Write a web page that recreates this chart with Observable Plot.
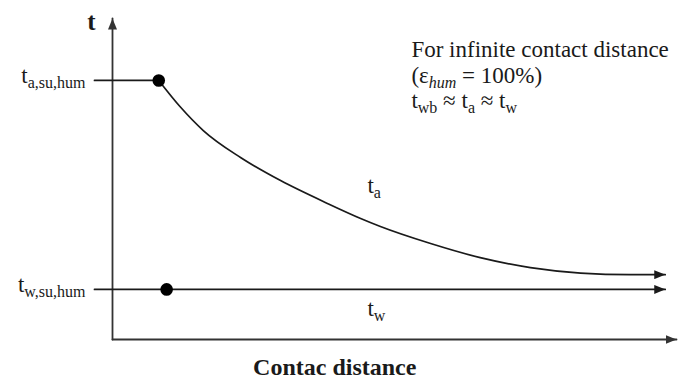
<!DOCTYPE html>
<html>
<head>
<meta charset="utf-8">
<script src="https://cdn.jsdelivr.net/npm/d3@7"></script>
<script src="https://cdn.jsdelivr.net/npm/@observablehq/plot@0.6"></script>
<style>
  html, body { margin: 0; padding: 0; background: #fff; }
</style>
</head>
<body>
<div id="chart"></div>
<script>
// ---- data (abstract units: contact distance 0..100, temperature 0..100) ----
const airDistance = [8.2, 12.0, 16.1, 22.7, 29.8, 38.1, 44.0, 47.5, 56.4, 65.2, 74.1, 83.0, 91.8, 98.0];
const airTemp     = [80.7, 72.5, 65.1, 56.7, 49.5, 42.4, 37.7, 35.2, 29.9, 25.5, 22.4, 20.7, 20.2, 20.2];
const tAirSuHum = 80.7;          // t_a,su,hum level
const tWaterSuHum = 15.6;        // t_w,su,hum level
const waterStart = 9.6;          // start point of t_w
const waterEnd = 98.0;
const levelStart = -3.2;         // level lines begin left of the axis
const levelLabels = ["t_{a,su,hum}", "t_{w,su,hum}"];
const levelValues = [tAirSuHum, tWaterSuHum];
const curveLabels = ["t_{a}", "t_{w}"];
const noteLines = ["For infinite contact distance", "(ε_[hum] = 100%)", "t_{wb} ≈ t_{a} ≈ t_{w}"];
const xTitle = "Contac distance";
const yTitle = "t";

const airSeries = airDistance.map((d, i) => ({x: d, y: airTemp[i]}));
const airLevel = [{x: levelStart, y: tAirSuHum}, {x: airDistance[0], y: tAirSuHum}];
const waterSeries = [{x: levelStart, y: tWaterSuHum}, {x: waterEnd, y: tWaterSuHum}];
const startDots = [{x: airDistance[0], y: airTemp[0]}, {x: waterStart, y: tWaterSuHum}];

const ink = "#1a1a1a";
const serif = "'Liberation Serif', 'Times New Roman', Times, serif";

function filledArrow(color) {
  const m = d3.create("svg:marker")
    .attr("viewBox", "-11 -4.5 11 9")
    .attr("markerWidth", 11).attr("markerHeight", 9)
    .attr("markerUnits", "userSpaceOnUse")
    .attr("orient", "auto")
    .attr("refX", 0).attr("refY", 0)
    .attr("fill", color).attr("stroke", "none");
  m.append("path").attr("d", "M-11,-4.5L0,0L-11,4.5Z");
  return m.node();
}

const chart = Plot.plot({
  width: 679,
  height: 381,
  marginLeft: 112,
  marginRight: 3,
  marginTop: 18,
  marginBottom: 42,
  x: {domain: [0, 100], axis: null},
  y: {domain: [0, 100], axis: null},
  style: {fontFamily: serif, color: ink, background: "#fff", overflow: "visible"},
  marks: [
    // axes with arrow heads
    Plot.line([{x: 0, y: 0}, {x: 100, y: 0}], {x: "x", y: "y", stroke: "#333", strokeWidth: 1.8, markerEnd: filledArrow}),
    Plot.line([{x: 0, y: 0}, {x: 0, y: 100}], {x: "x", y: "y", stroke: "#333", strokeWidth: 1.8, markerEnd: filledArrow}),
    // t_a level + curve
    Plot.line(airLevel, {x: "x", y: "y", stroke: ink, strokeWidth: 1.7}),
    Plot.line(airSeries, {x: "x", y: "y", stroke: ink, strokeWidth: 1.7, curve: "monotone-x", markerEnd: filledArrow}),
    // t_w line
    Plot.line(waterSeries, {x: "x", y: "y", stroke: ink, strokeWidth: 1.7, markerEnd: filledArrow}),
    // start dots
    Plot.dot(startDots, {x: "x", y: "y", r: 6.3, fill: "#000", stroke: "none"}),
    // level labels on the y axis
    Plot.text(levelLabels, {x: () => 0, y: (d, i) => levelValues[i], text: d => d, dx: -27, dy: 3, textAnchor: "end", lineAnchor: "bottom", fontSize: 23, fontFamily: serif, fill: ink}),
    // y title
    Plot.text([yTitle], {x: () => 0, y: () => 100, text: d => d, dx: -21, dy: 11, textAnchor: "middle", lineAnchor: "bottom", fontSize: 25, fontWeight: "bold", fontFamily: serif, fill: ink}),
    // curve labels
    Plot.text(curveLabels, {x: () => 45.2, y: (d, i) => [45.5, 7.2][i], text: d => d, textAnchor: "start", lineAnchor: "bottom", fontSize: 23, fontFamily: serif, fill: ink}),
    // note
    Plot.text(noteLines, {x: () => 53.0, y: (d, i) => 88 - i * 8, text: d => d, textAnchor: "start", lineAnchor: "bottom", fontSize: 23, fontFamily: serif, fill: ink}),
    // x title
    Plot.text([xTitle], {x: () => 39.4, y: () => -11.2, text: d => d, textAnchor: "middle", lineAnchor: "bottom", fontSize: 24, fontWeight: "bold", fontFamily: serif, fill: ink})
  ]
});

// Turn _{...} into subscripts and _[...] into italic subscripts
d3.select(chart).selectAll("text").each(function () {
  const s = this.textContent;
  if (!/_[\{\[]/.test(s)) return;
  const el = d3.select(this);
  const parts = s.split(/(_\{[^}]*\}|_\[[^\]]*\])/);
  this.textContent = "";
  let shifted = false;
  for (const p of parts) {
    if (!p) continue;
    const m = p.match(/^_([\{\[])(.*)[\}\]]$/);
    if (m) {
      const t = el.append("tspan").attr("font-size", 16).text(m[2]);
      if (!shifted) t.attr("dy", 5);
      if (m[1] === "[") t.attr("font-style", "italic");
      shifted = true;
    } else {
      const t = el.append("tspan").text(p);
      if (shifted) t.attr("dy", -5);
      shifted = false;
    }
  }
});

document.getElementById("chart").appendChild(chart);
</script>
</body>
</html>
